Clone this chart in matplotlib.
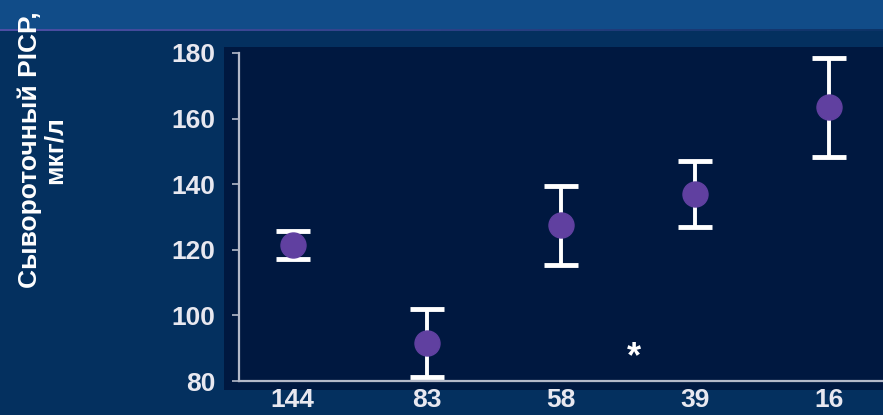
import numpy as np
import matplotlib
matplotlib.use('Agg')
import matplotlib.pyplot as plt
from matplotlib.patches import Rectangle

# группы (подписи по оси X) и значения PICP, мкг/л
groups = ['144', '83', '58', '39', '16']
picp_mean = [121.5, 91.5, 127.5, 137.0, 163.4]
picp_err = [4.2, 10.3, 12.0, 10.0, 15.0]
star_pos = (2.54, 87.0)

plt.rcParams['font.family'] = ['Liberation Sans', 'DejaVu Sans']

W, H = 883, 415
fig = plt.figure(figsize=(W / 100, H / 100), dpi=100)
fig.patch.set_facecolor('#04305f')

# фон: верхняя полоса, линия под ней и тёмная панель графика
bg = fig.add_axes([0, 0, 1, 1], zorder=-1)
bg.set_xlim(0, W)
bg.set_ylim(H, 0)
bg.axis('off')
bg.add_patch(Rectangle((0, 0), W, 29, color='#114c88', lw=0))
grad = np.zeros((1, 256, 4))
grad[..., 0] = 0.36
grad[..., 1] = 0.33
grad[..., 2] = 0.70
grad[..., 3] = np.linspace(0.85, 0.1, 256)
bg.imshow(grad, extent=[0, W, 31.5, 28.5], aspect='auto')
bg.add_patch(Rectangle((224, 47), W - 224, 343, color='#001840', lw=0))

ax = fig.add_axes([239 / W, 1 - 381 / H, 1 - 239 / W, (381 - 53) / H])
ax.set_facecolor('none')
x = np.arange(len(groups))
ax.errorbar(x, picp_mean, yerr=picp_err, fmt='o', color='#6040a0', ms=18,
            ecolor='white', elinewidth=2.8, capsize=12, capthick=3.5, zorder=3)
ax.text(star_pos[0], star_pos[1], '*', color='white', fontsize=26,
        fontweight='bold', ha='center', va='center')

ax.set_xlim(-0.4, 4.4)
ax.set_ylim(80, 180)
ax.set_yticks([80, 100, 120, 140, 160, 180])
ax.set_xticks(x)
ax.set_xticklabels(groups)
for s in ['top', 'right']:
    ax.spines[s].set_visible(False)
for s in ['left', 'bottom']:
    ax.spines[s].set_color('#b4b8c8')
    ax.spines[s].set_linewidth(1.6)
ax.tick_params(axis='y', colors='#b4b8c8', length=5, width=1.2, pad=12,
               labelcolor='#e8e8f0', labelsize=19)
ax.tick_params(axis='x', length=0, pad=5, labelcolor='#e8e8f0', labelsize=19)
for lbl in ax.get_xticklabels() + ax.get_yticklabels():
    lbl.set_fontweight('bold')

fig.text(42 / W, 1 - 150 / H, 'Сывороточный PICP,\nмкг/л', rotation=90,
         color='white', fontsize=19, fontweight='bold', ha='center',
         va='center', multialignment='center', linespacing=1.05)

fig.savefig('out.png', dpi=100, facecolor=fig.get_facecolor())
